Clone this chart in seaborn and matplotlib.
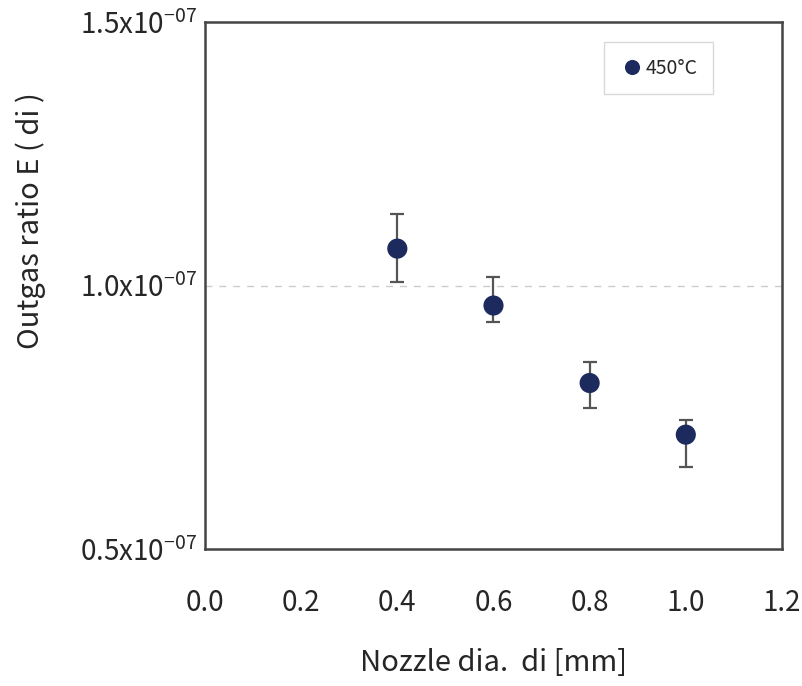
import numpy as np
import pandas as pd
import matplotlib
matplotlib.use("Agg")
import matplotlib.pyplot as plt
import seaborn as sns
from matplotlib.ticker import FuncFormatter

# values
nozzle_dia = [0.4, 0.6, 0.8, 1.0]
ratio = [1.070e-7, 0.962e-7, 0.815e-7, 0.717e-7]
ratio_low = [1.006e-7, 0.930e-7, 0.767e-7, 0.655e-7]
ratio_high = [1.135e-7, 1.017e-7, 0.855e-7, 0.744e-7]
series = ["450°C"] * 4

df = pd.DataFrame({"di": nozzle_dia, "E": ratio, "lo": ratio_low,
                   "hi": ratio_high, "temp": series})

sns.set_style("white")
plt.rcParams['font.family'] = ['Noto Sans CJK JP', 'DejaVu Sans']
plt.rcParams['mathtext.default'] = 'regular'

fig = plt.figure(figsize=(8.03, 6.86), dpi=100)
ax = fig.add_axes([0.2553, 0.1997, 0.7185, 0.7682])

yerr = np.array([df["E"] - df["lo"], df["hi"] - df["E"]])
ax.errorbar(df["di"], df["E"], yerr=yerr, fmt="none", ecolor="#555555",
            elinewidth=1.6, capsize=5, capthick=1.6, zorder=2)
sns.scatterplot(data=df, x="di", y="E", hue="temp", palette=["#1c2a5e"],
                s=210, edgecolor="#1c2a5e", linewidth=0, ax=ax, zorder=3)

ax.set_xlim(0, 1.2)
ax.set_ylim(0.5e-7, 1.5e-7)
ax.set_xticks(np.arange(0, 1.21, 0.2))
ax.set_yticks([0.5e-7, 1.0e-7, 1.5e-7])
ax.xaxis.set_major_formatter(FuncFormatter(lambda v, p: f"{v:.1f}"))
ax.yaxis.set_major_formatter(
    FuncFormatter(lambda v, p: f"{v * 1e7:.1f}x10$^{{-07}}$"))

ax.axhline(1.0e-7, color="#cccccc", lw=1, ls=(0, (5, 5)), zorder=1)

for s in ax.spines.values():
    s.set_color("#444444")
    s.set_linewidth(1.8)

ax.tick_params(axis="x", direction="in", length=8, color="#cccccc",
               labelsize=20, pad=28)
ax.tick_params(axis="y", direction="out", length=4, color="#cccccc",
               labelsize=20, pad=2)

ax.set_xlabel("Nozzle dia.  di [mm]", fontsize=21, labelpad=22)
ax.set_ylabel("Outgas ratio E ( di )", fontsize=21)
ax.yaxis.set_label_coords(-0.275, 0.624)

leg = ax.legend(loc="upper right", bbox_to_anchor=(0.88, 0.962),
                borderaxespad=0, fontsize=14, frameon=True, fancybox=False,
                handletextpad=0.1, handlelength=1.2, borderpad=0.8,
                markerscale=0.75)
leg.get_frame().set_edgecolor("#d0d0d0")
leg.get_frame().set_linewidth(1)

fig.savefig("out.png", dpi=100)
